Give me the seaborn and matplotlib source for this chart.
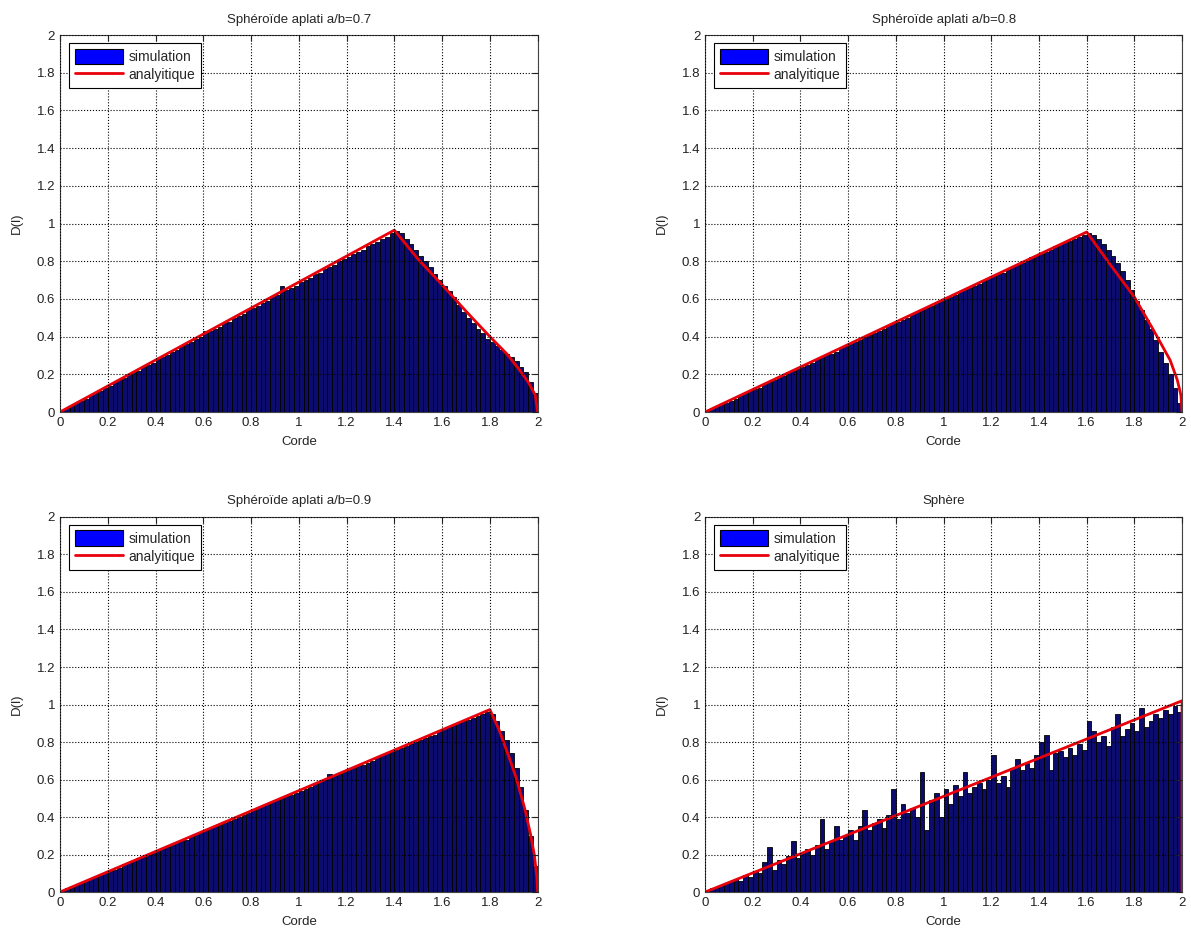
import numpy as np
import pandas as pd
import matplotlib
matplotlib.use("Agg")
import matplotlib.pyplot as plt
import seaborn as sns
from matplotlib.patches import Patch
from matplotlib.lines import Line2D

# histogram heights, 100 bins of width 0.02 on [0, 2]
sim_07 = [0.01, 0.02, 0.03, 0.05, 0.06, 0.07, 0.09, 0.10, 0.11, 0.13,
          0.14, 0.16, 0.17, 0.18, 0.20, 0.21, 0.22, 0.24, 0.25, 0.26,
          0.28, 0.29, 0.30, 0.32, 0.33, 0.35, 0.36, 0.37, 0.39, 0.40,
          0.43, 0.43, 0.44, 0.45, 0.47, 0.48, 0.50, 0.51, 0.52, 0.54,
          0.55, 0.56, 0.58, 0.59, 0.61, 0.62, 0.67, 0.65, 0.66, 0.67,
          0.69, 0.70, 0.71, 0.73, 0.74, 0.76, 0.77, 0.78, 0.80, 0.81,
          0.82, 0.84, 0.85, 0.86, 0.88, 0.89, 0.90, 0.92, 0.93, 0.95,
          0.96, 0.95, 0.92, 0.89, 0.86, 0.83, 0.80, 0.77, 0.73, 0.70,
          0.67, 0.64, 0.61, 0.57, 0.53, 0.50, 0.47, 0.44, 0.42, 0.39,
          0.37, 0.35, 0.33, 0.31, 0.29, 0.27, 0.24, 0.21, 0.16, 0.10]

sim_08 = [0.01, 0.02, 0.03, 0.04, 0.05, 0.06, 0.07, 0.09, 0.10, 0.11,
          0.12, 0.13, 0.15, 0.16, 0.17, 0.18, 0.19, 0.21, 0.22, 0.23,
          0.24, 0.25, 0.26, 0.28, 0.29, 0.30, 0.31, 0.32, 0.34, 0.35,
          0.36, 0.37, 0.38, 0.40, 0.41, 0.42, 0.43, 0.44, 0.46, 0.47,
          0.48, 0.49, 0.50, 0.52, 0.53, 0.54, 0.55, 0.56, 0.58, 0.59,
          0.60, 0.61, 0.62, 0.64, 0.65, 0.66, 0.67, 0.68, 0.70, 0.71,
          0.72, 0.73, 0.74, 0.76, 0.77, 0.78, 0.79, 0.80, 0.82, 0.83,
          0.84, 0.85, 0.86, 0.88, 0.89, 0.90, 0.91, 0.92, 0.93, 0.94,
          0.95, 0.94, 0.92, 0.89, 0.86, 0.83, 0.79, 0.75, 0.70, 0.65,
          0.59, 0.54, 0.49, 0.44, 0.38, 0.32, 0.26, 0.20, 0.13, 0.05]

sim_09 = [0.01, 0.02, 0.03, 0.04, 0.05, 0.06, 0.07, 0.08, 0.09, 0.10,
          0.11, 0.12, 0.13, 0.15, 0.16, 0.17, 0.18, 0.19, 0.20, 0.21,
          0.22, 0.23, 0.24, 0.25, 0.26, 0.27, 0.28, 0.30, 0.31, 0.32,
          0.33, 0.34, 0.35, 0.36, 0.37, 0.38, 0.39, 0.40, 0.41, 0.42,
          0.44, 0.45, 0.46, 0.47, 0.48, 0.49, 0.50, 0.51, 0.52, 0.53,
          0.54, 0.55, 0.56, 0.58, 0.59, 0.60, 0.63, 0.62, 0.63, 0.64,
          0.65, 0.66, 0.67, 0.68, 0.69, 0.70, 0.72, 0.73, 0.74, 0.75,
          0.76, 0.77, 0.78, 0.79, 0.80, 0.81, 0.82, 0.83, 0.84, 0.86,
          0.87, 0.88, 0.89, 0.90, 0.91, 0.92, 0.93, 0.94, 0.95, 0.96,
          0.95, 0.91, 0.86, 0.81, 0.74, 0.66, 0.56, 0.44, 0.30, 0.14]

sim_sphere = [0.01, 0.02, 0.02, 0.04, 0.05, 0.06, 0.07, 0.06, 0.09, 0.08,
              0.11, 0.10, 0.16, 0.24, 0.12, 0.17, 0.15, 0.19, 0.27, 0.18,
              0.21, 0.23, 0.20, 0.25, 0.39, 0.23, 0.27, 0.35, 0.28, 0.30,
              0.33, 0.28, 0.35, 0.44, 0.33, 0.37, 0.39, 0.34, 0.41, 0.55,
              0.39, 0.47, 0.42, 0.45, 0.40, 0.64, 0.33, 0.49, 0.53, 0.40,
              0.55, 0.47, 0.57, 0.51, 0.64, 0.53, 0.56, 0.58, 0.55, 0.60,
              0.73, 0.58, 0.62, 0.56, 0.66, 0.71, 0.65, 0.69, 0.66, 0.73,
              0.80, 0.84, 0.65, 0.74, 0.75, 0.72, 0.77, 0.73, 0.79, 0.76,
              0.91, 0.86, 0.80, 0.83, 0.78, 0.88, 0.95, 0.83, 0.87, 0.90,
              0.86, 0.98, 0.88, 0.91, 0.95, 0.93, 0.97, 0.95, 0.99, 0.96]

# analytic curves
ana_07_x = [0, 1.4, 1.5, 1.6, 1.7, 1.8, 1.87, 1.92, 1.96, 1.99, 2.0]
ana_07_y = [0, 0.965, 0.81, 0.675, 0.535, 0.40, 0.31, 0.23, 0.16, 0.09, 0.0]
ana_08_x = [0, 1.6, 1.7, 1.8, 1.88, 1.95, 1.98, 1.995, 2.0]
ana_08_y = [0, 0.955, 0.78, 0.61, 0.435, 0.275, 0.17, 0.09, 0.0]
ana_09_x = [0, 1.8, 1.84, 1.88, 1.91, 1.945, 1.97, 1.986, 1.997, 2.0]
ana_09_y = [0, 0.973, 0.86, 0.72, 0.61, 0.45, 0.31, 0.20, 0.08, 0.0]
ana_sph_x = [0, 2.0, 2.0]
ana_sph_y = [0, 1.02, 0.0]

titles = ["Sphéroïde aplati a/b=0.7", "Sphéroïde aplati a/b=0.8",
          "Sphéroïde aplati a/b=0.9", "Sphère"]
x_ticks = [0, 0.2, 0.4, 0.6, 0.8, 1, 1.2, 1.4, 1.6, 1.8, 2]
x_labels = ["0", "0.2", "0.4", "0.6", "0.8", "1", "1.2", "1.4", "1.6", "1.8", "2"]
y_ticks = [0, 0.2, 0.4, 0.6, 0.8, 1, 1.2, 1.4, 1.6, 1.8, 2]
y_labels = ["0", "0.2", "0.4", "0.6", "0.8", "1", "1.2", "1.4", "1.6", "1.8", "2"]

sns.set_style("white")
plt.rcParams['font.family'] = ['Liberation Sans', 'DejaVu Sans']

fig = plt.figure(figsize=(11.91, 9.33), dpi=100)
positions = [[0.0504, 0.5584, 0.401, 0.404], [0.592, 0.5584, 0.4005, 0.404],
             [0.0504, 0.0439, 0.401, 0.402], [0.592, 0.0439, 0.4005, 0.402]]
sims = [sim_07, sim_08, sim_09, sim_sphere]
curves = [(ana_07_x, ana_07_y), (ana_08_x, ana_08_y),
          (ana_09_x, ana_09_y), (ana_sph_x, ana_sph_y)]

edges = list(np.linspace(0, 2, len(sim_07) + 1))
centers = [(a + b) / 2 for a, b in zip(edges[:-1], edges[1:])]

for pos, sim, (cx, cy), title in zip(positions, sims, curves, titles):
    ax = fig.add_axes(pos)
    df = pd.DataFrame({"corde": centers, "d": sim})
    sns.histplot(data=df, x="corde", weights="d", bins=edges, ax=ax,
                 color="#0c0c6e", edgecolor="black", linewidth=0.6, alpha=1)
    sns.lineplot(x=cx, y=cy, ax=ax, color="#e8000b", linewidth=2,
                 sort=False, estimator=None)
    ax.set_xlim(0, 2)
    ax.set_ylim(0, 2)
    ax.set_xticks(x_ticks)
    ax.set_xticklabels(x_labels)
    ax.set_yticks(y_ticks)
    ax.set_yticklabels(y_labels)
    ax.tick_params(direction="in", length=4, labelsize=9.5, top=True, right=True,
                   colors="#222222")
    ax.grid(True, linestyle=":", color="black", linewidth=0.8)
    ax.set_axisbelow(False)
    for s in ax.spines.values():
        s.set_color("#444444")
        s.set_linewidth(0.8)
    ax.set_title(title, fontsize=9.5, pad=9)
    ax.set_xlabel("Corde", fontsize=9.5, labelpad=5)
    ax.set_ylabel("D(l)", fontsize=9.5, labelpad=10)
    handles = [Patch(facecolor="#0000ff", edgecolor="black", linewidth=0.8),
               Line2D([0], [0], color="#e8000b", linewidth=2)]
    leg = ax.legend(handles, ["simulation", "analyitique"], loc="upper left",
                    fontsize=10, fancybox=False, framealpha=1, edgecolor="black",
                    handlelength=3.5, handleheight=1.3, borderpad=0.4,
                    labelspacing=0.25, handletextpad=0.4, borderaxespad=0,
                    bbox_to_anchor=(0.019, 0.979))
    leg.get_frame().set_linewidth(0.8)

fig.savefig("out.png", dpi=100)
